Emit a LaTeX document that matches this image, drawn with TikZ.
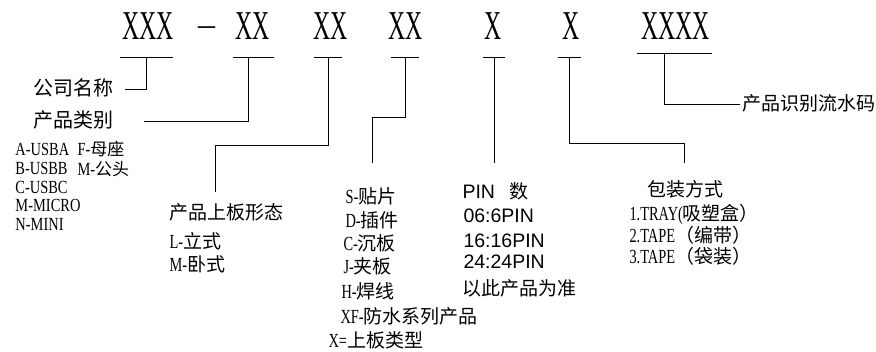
\documentclass[tikz,border=0pt]{standalone}
\usepackage{fontspec}
\usepackage{tikz}
\setmainfont{Liberation Serif}
\newfontfamily\bigx[FakeStretch=0.58]{Liberation Serif}
\newfontfamily\nar[FakeStretch=0.72]{Liberation Serif}
\newfontfamily\narb[FakeStretch=0.78]{Liberation Serif}
\newfontfamily\cjk{Noto Sans CJK SC}
\newfontfamily\sans{Liberation Sans}
\newcommand{\zh}[1]{{\cjk\fontsize{19pt}{20pt}\selectfont #1}}

\begin{document}
\begin{tikzpicture}[x=1pt, y=-1pt, line width=1pt,
    code/.style={font=\bigx\fontsize{41pt}{41pt}\selectfont, inner sep=0pt, text height=27pt, text depth=17pt, anchor=base},
    lbl/.style={font=\nar\fontsize{20pt}{20pt}\selectfont, inner sep=0pt, text height=13.5pt, text depth=1.5pt, anchor=west},
    small/.style={lbl, font=\narb\fontsize{18.5pt}{19pt}\selectfont},
    pinlbl/.style={lbl, font=\sans\fontsize{19.5pt}{20pt}\selectfont}]
    \useasboundingbox (0,0) rectangle (876,352);

    % the code
    \node[code] (c1) at (148,40) {XXX};
    \node[code] (hy) at (206.5,40) {\rmfamily\fontsize{34pt}{34pt}\selectfont\raisebox{4pt}{\textendash}};
    \node[code] (c2) at (252.5,40) {XX};
    \node[code] (c3) at (330.5,40) {XX};
    \node[code] (c4) at (405.5,40) {XX};
    \node[code] (c5) at (493.5,40) {X};
    \node[code] (c6) at (571,40) {X};
    \node[code, text depth=13pt] (c7) at (675.5,40) {XXXX};

    \path[draw] ([xshift=-28pt]c1.south) -- ([xshift=25pt]c1.south);
    \path[draw] ([xshift=-19.5pt]c2.south) -- ([xshift=21.5pt]c2.south);
    \path[draw] ([xshift=-16.5pt]c3.south) -- ([xshift=11.5pt]c3.south);
    \path[draw] ([xshift=-14.5pt]c4.south) -- ([xshift=13.5pt]c4.south);
    \path[draw] ([xshift=-10.5pt]c5.south) -- ([xshift=11.5pt]c5.south);
    \path[draw] ([xshift=-13pt]c6.south) -- ([xshift=10pt]c6.south);
    \path[draw] ([xshift=-38.5pt]c7.south) -- ([xshift=36.5pt]c7.south);

    % labels
    \node[lbl] (company) at (33,90) {\zh{\fontsize{20pt}{20pt}\selectfont 公司名称}};
    \node[lbl] (category) at (33,122) {\zh{\fontsize{20pt}{20pt}\selectfont 产品类别}};
    \node[small] (usba) at (15,150) {A-USBA};
    \node[small] (usbb) at (15,168.5) {B-USBB};
    \node[small] (usbc) at (15,187.5) {C-USBC};
    \node[small] (micro) at (15,206) {M-MICRO};
    \node[small] (mini) at (15,225) {N-MINI};
    \node[small] (female) at (77,150) {F-\zh{\fontsize{17pt}{17pt}\selectfont 母座}};
    \node[small] (male) at (77,170) {M-\zh{\fontsize{17pt}{17pt}\selectfont 公头}};

    \node[lbl] (form) at (169,214) {\zh{产品上板形态}};
    \node[lbl] (upright) at (169,243) {L-\zh{立式}};
    \node[lbl] (lying) at (169,266) {M-\zh{卧式}};

    \node[lbl] (smt) at (345,198) {S-\zh{贴片}};
    \node[lbl] (dip) at (345,222) {D-\zh{插件}};
    \node[lbl] (sink) at (343,245) {C-\zh{沉板}};
    \node[lbl] (clip) at (343,268) {J-\zh{夹板}};
    \node[lbl] (wire) at (341,293) {H-\zh{焊线}};
    \node[lbl] (water) at (340,318) {XF-\zh{防水系列产品}};
    \node[lbl] (xtype) at (328,342) {X=\zh{上板类型}};

    \node[pinlbl] (pin) at (462,193) {PIN\hspace{14pt}\zh{数}};
    \node[pinlbl] (p6) at (463,217) {06:6PIN};
    \node[pinlbl] (p16) at (463,242) {16:16PIN};
    \node[pinlbl] (p24) at (463,263) {24:24PIN};
    \node[lbl] (ref) at (462,290) {\zh{以此产品为准}};

    \node[lbl] (pack) at (647,191) {\zh{包装方式}};
    \node[lbl] (tray) at (629,215) {1.TRAY(\zh{吸塑盒）}};
    \node[lbl] (tape) at (629,237) {2.TAPE\zh{（编带）}};
    \node[lbl] (bag) at (629,258) {3.TAPE\zh{（袋装）}};

    \node[lbl] (serial) at (742,105) {\zh{产品识别流水码}};

    % connectors
    \coordinate (t3) at (215,192);
    \coordinate (t4) at (372,163);
    \coordinate (t5) at (494,163);
    \coordinate (t6) at (684,163);
    \path[draw] ([xshift=-2pt]c1.south) |- ([xshift=11pt]company.east);
    \path[draw] ([xshift=-4.5pt]c2.south) |- ([xshift=30pt]category.east);
    \path[draw] ([xshift=-2.5pt]c3.south) -- ++(0,88) -| (t3);
    \path[draw] ([xshift=-0.5pt]c4.south) -- ++(0,60) -| (t4);
    \path[draw] ([xshift=0.5pt]c5.south) -- (t5);
    \path[draw] ([xshift=-2pt]c6.south) -- ++(0,86) -| (t6);
    \path[draw] ([xshift=-11.5pt]c7.south) |- ([xshift=-2pt]serial.west);
\end{tikzpicture}
\end{document}
